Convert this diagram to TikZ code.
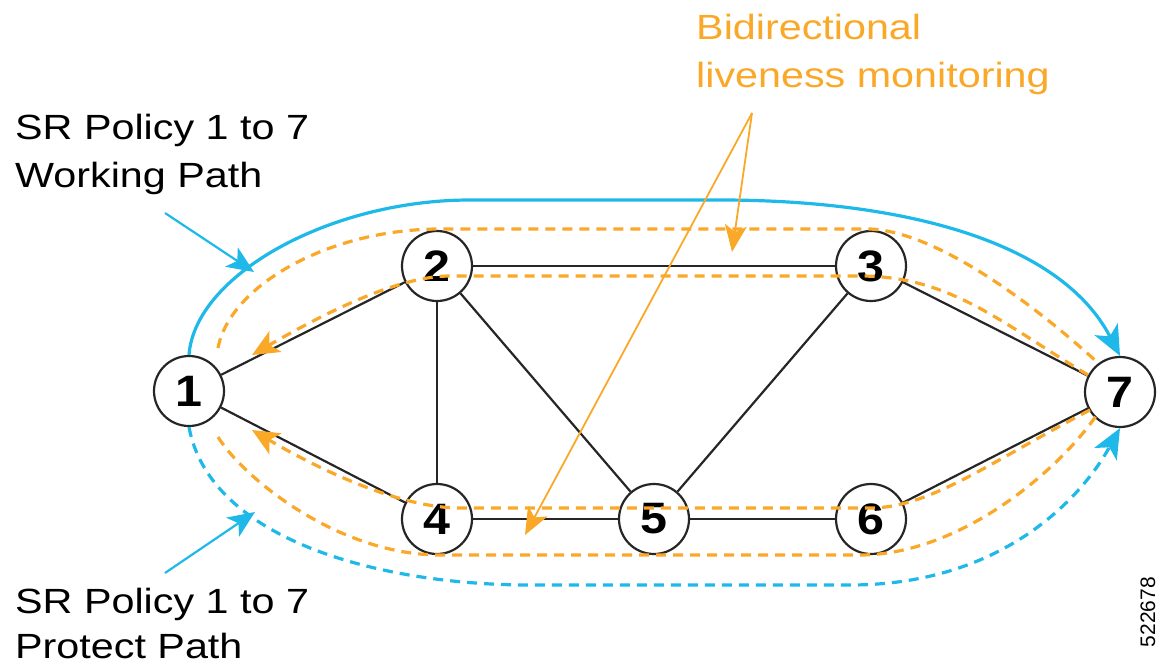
\documentclass[tikz,border=0pt]{standalone}
\usepackage{fontspec}
\setmainfont{Liberation Sans}[FakeStretch=1.18]
\newfontfamily\numfont{Liberation Sans}[FakeStretch=1.1]
\newfontfamily\idfont{Liberation Sans}
\usetikzlibrary{arrows.meta}
\definecolor{ciscoblue}{RGB}{30,185,232}
\definecolor{livorange}{RGB}{250,168,40}
\pgfdeclarelayer{bg}
\pgfsetlayers{bg,main}
\begin{document}
\begin{tikzpicture}[x=1pt,y=-1pt,
  router/.style={circle, draw=black!85, line width=2.2pt, fill=white,
    minimum size=70pt, inner sep=0pt,
    font=\numfont\bfseries\fontsize{44}{44}\selectfont},
  link/.style={draw=black!85, line width=2.2pt},
  work/.style={draw=ciscoblue, line width=3.2pt,
    -{Stealth[length=30pt,width=26pt,inset=8pt]}},
  prot/.style={draw=ciscoblue, line width=3.2pt, dash pattern=on 10pt off 7pt,
    -{Stealth[length=30pt,width=26pt,inset=8pt,line width=0pt,fill=ciscoblue]}},
  mon/.style={draw=livorange, line width=3.2pt, dash pattern=on 10pt off 7pt},
  monarrow/.style={mon, -{Stealth[length=27pt,width=24pt,inset=7pt]}},
  bluecall/.style={draw=ciscoblue, line width=2.2pt,
    -{Stealth[length=27pt,width=23pt,inset=7pt]}},
  orcall/.style={draw=livorange, line width=1.8pt,
    -{Stealth[length=27pt,width=22pt,inset=7pt]}},
  lbl/.style={anchor=base west, inner sep=0pt,
    font=\fontsize{35}{35}\selectfont},
  orlbl/.style={lbl, text=livorange},
]
\useasboundingbox (0,0) rectangle (1166,669);

% routers
\node[router] (n1) at (189,391) {1};
\node[router] (n2) at (437,266) {2};
\node[router] (n3) at (871,266) {3};
\node[router] (n4) at (437,519) {4};
\node[router] (n5) at (654,519) {5};
\node[router] (n6) at (871,519) {6};
\node[router] (n7) at (1120,392) {7};

% links (behind routers)
\begin{pgfonlayer}{bg}
\path[link] (n1) -- (n2);
\path[link] (n1) -- (n4);
\path[link] (n2) -- (n3);
\path[link] (n2) -- (n4);
\path[link] (n2) -- (n5);
\path[link] (n3) -- (n5);
\path[link] (n3) -- (n7);
\path[link] (n4) -- (n5);
\path[link] (n5) -- (n6);
\path[link] (n6) -- (n7);
\end{pgfonlayer}

% working path (solid blue)
\draw[work] (n1.north) .. controls (195,275) and (330,200) .. (470,200)
  -- (720,200) .. controls (900,200) and (1060,240) .. (n7.north);

% protect path (dashed blue)
\draw[prot] (n1.south) .. controls (210,540) and (380,585) .. (530,585)
  -- (850,585) .. controls (1000,585) and (1080,500) .. (n7.south);

% liveness monitoring loops (dashed orange)
\draw[mon] (218,348) .. controls (230,285) and (330,229) .. (440,229)
  -- (870,229) .. controls (940,232) and (1040,310) .. (1097,362);
\draw[monarrow] (1088,375) .. controls (1000,322) and (950,276) .. (860,276)
  -- (450,276) .. controls (400,276) and (330,310) .. (252,355);
\draw[mon] (218,437) .. controls (245,480) and (340,555) .. (440,555)
  -- (860,555) .. controls (960,555) and (1060,470) .. (1098,413);
\draw[monarrow] (1090,410) .. controls (990,462) and (930,508) .. (870,508)
  -- (460,508) .. controls (400,508) and (320,470) .. (252,430);

% labels
\node[lbl] (w1) at (15,139) {SR Policy 1 to 7};
\node[lbl] (w2) at (15,187) {Working Path};
\node[lbl] (p1) at (15,613) {SR Policy 1 to 7};
\node[lbl] (p2) at (15,658) {Protect Path};
\node[orlbl] (b1) at (696,40) {Bidirectional};
\node[orlbl] (b2) at (696,87) {liveness monitoring};
\node[font=\idfont\fontsize{21}{21}\selectfont, rotate=90, inner sep=0pt] (id) at (1148,612) {522678};

% callouts
\coordinate (wt) at (165,213);
\coordinate (wh) at (254,272);
\coordinate (pt) at (165,573);
\coordinate (ph) at (255,512);
\draw[bluecall] (wt) -- (wh);
\draw[bluecall] (pt) -- (ph);
\coordinate (apex) at (752,113);
\coordinate (ta) at (732,252);
\coordinate (tb) at (525,535);
\draw[orcall] (apex) -- (ta);
\draw[orcall] (apex) -- (tb);
\end{tikzpicture}
\end{document}
